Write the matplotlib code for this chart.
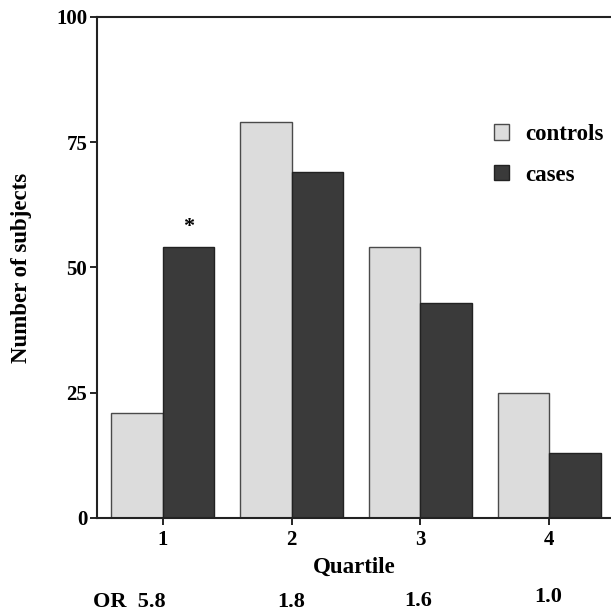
import numpy as np
import matplotlib.pyplot as plt
from matplotlib.patches import Patch

quartiles = [1, 2, 3, 4]
controls = [21, 79, 54, 25]
cases = [54, 69, 43, 13]
odds_ratios = ["OR  5.8", "1.8", "1.6", "1.0"]

plt.rcParams['font.family'] = ['Liberation Serif', 'DejaVu Serif']
plt.rcParams['font.weight'] = 'bold'

fig = plt.figure(figsize=(6.11, 6.14), dpi=100)
ax = fig.add_axes([0.1588, 0.1564, 0.8412, 0.816])

x = np.array(quartiles)
w = 0.4
ax.bar(x - w / 2, controls, w, color='#dcdcdc', edgecolor='#4a4a4a', linewidth=1.0, label='controls')
ax.bar(x + w / 2, cases, w, color='#3a3a3a', edgecolor='#222222', linewidth=1.0, label='cases')

# significance marker on quartile 1 cases
ax.text(x[0] + w / 2, cases[0] + 2, '*', ha='center', va='bottom', fontsize=16, fontweight='bold')

ax.set_xlim(0.49, 4.48)
ax.set_ylim(0, 100)
ax.set_yticks([0, 25, 50, 75, 100])
ax.set_xticks(quartiles)
ax.tick_params(axis='both', labelsize=15, width=1.2, length=5, direction='out', pad=2)
ax.tick_params(axis='x', pad=4)
for lab in ax.get_xticklabels() + ax.get_yticklabels():
    lab.set_fontweight('bold')

ax.spines['right'].set_visible(False)
for s in ['left', 'bottom', 'top']:
    ax.spines[s].set_linewidth(1.5)
    ax.spines[s].set_color('#222222')

ax.set_xlabel('Quartile', fontsize=16.5, fontweight='bold')
ax.set_ylabel('Number of subjects', fontsize=16.5, fontweight='bold')
ax.xaxis.set_label_coords(0.5, -0.077)
ax.yaxis.set_label_coords(-0.126, 0.5)

# odds ratios under each quartile
or_x = [0.74, 2.0, 2.98, 3.99]
or_y = [-16.8, -16.8, -16.6, -15.8]
for xi, yi, t in zip(or_x, or_y, odds_ratios):
    ax.text(xi, yi, t, ha='center', va='center', fontsize=16, fontweight='bold', clip_on=False)

handles = [Patch(facecolor='#dcdcdc', edgecolor='#4a4a4a', label='controls'),
           Patch(facecolor='#3a3a3a', edgecolor='#222222', label='cases')]
ax.legend(handles=handles, loc='upper left', bbox_to_anchor=(0.772, 0.786), frameon=False,
          prop={'size': 16.5, 'weight': 'bold'}, handlelength=0.65, handleheight=0.65,
          handletextpad=0.7, labelspacing=0.85, borderaxespad=0, borderpad=0)

fig.savefig('out.png', dpi=100)
